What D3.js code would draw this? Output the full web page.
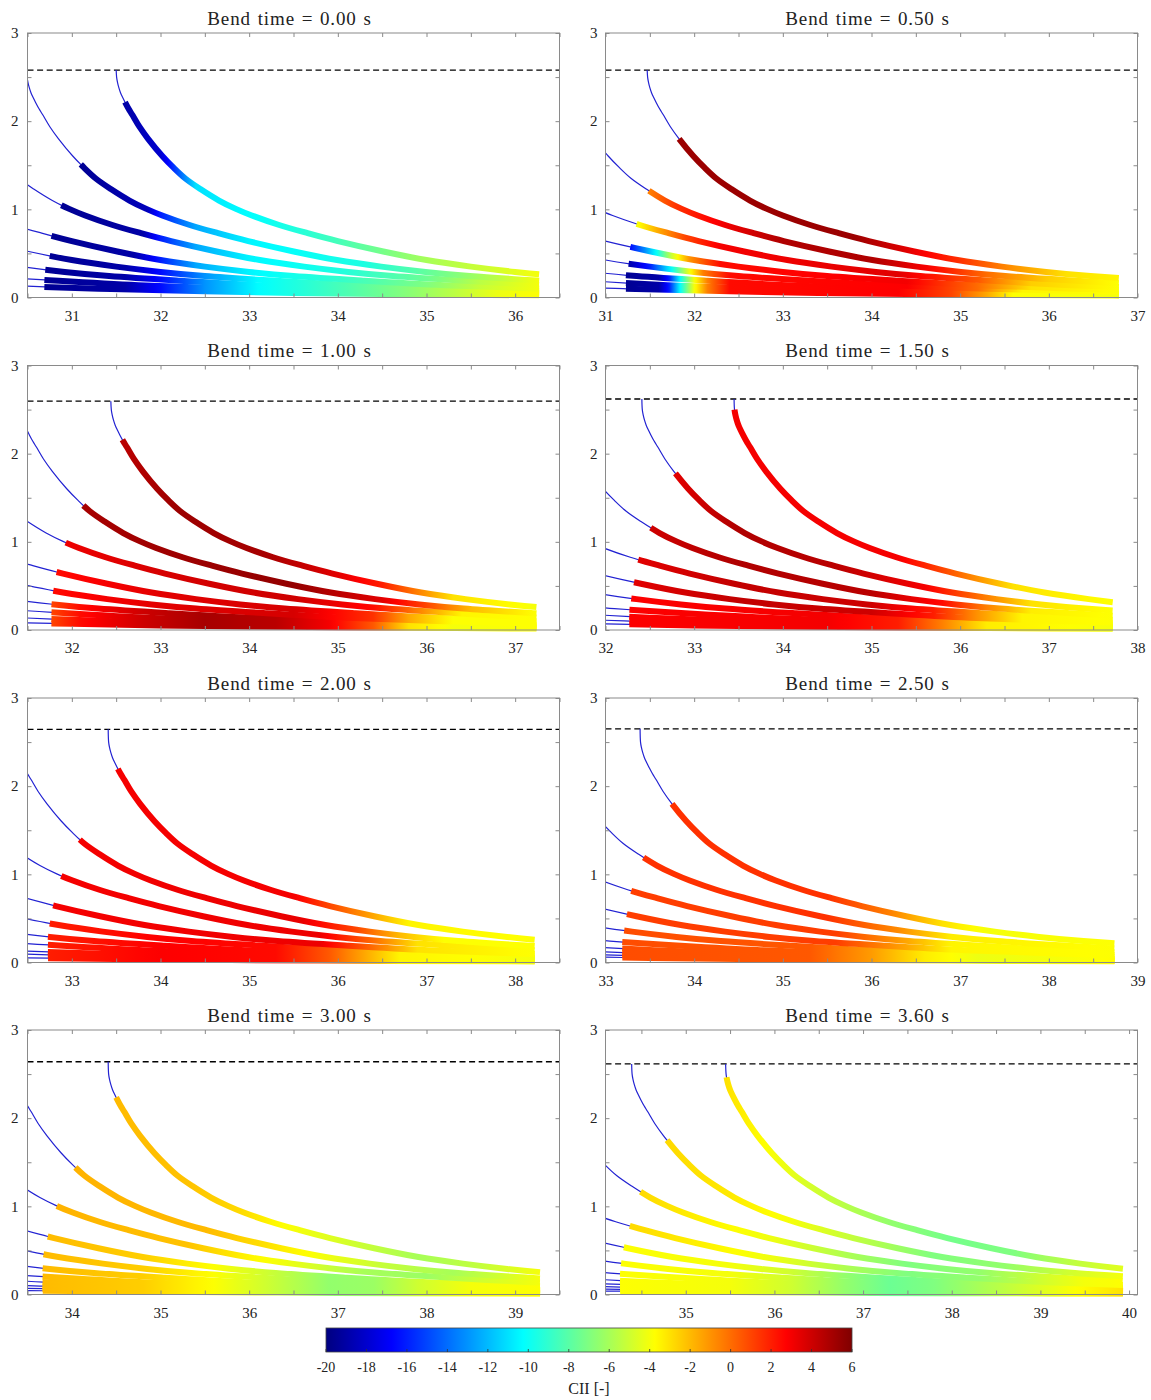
<!DOCTYPE html>
<html>
<head>
<meta charset="utf-8">
<script src="https://cdn.jsdelivr.net/npm/d3@7"></script>
<style>
  body { margin: 0; background: #fff; }
  svg { display: block; }
  text { font-family: "Liberation Serif", "DejaVu Serif", serif; fill: #222; }
</style>
</head>
<body>
<div id="container"></div>
<script>
// ---- data ----
const bendTimes = [0, 0.5, 1, 1.5, 2, 2.5, 3, 3.6];
const xDomains = [[30.5, 36.5], [31, 37], [31.5, 37.5], [32, 38], [32.5, 38.5], [33, 39], [33.5, 39.5], [34.095, 40.095]];
const dashHeights = [2.58, 2.58, 2.595, 2.62, 2.645, 2.65, 2.64, 2.615];
const endX = [36.27, 36.79, 37.24, 37.72, 38.22, 38.74, 39.28, 39.93];

// common trajectory shape: distance behind release point vs height
const profileDx = [0, 0.005, 0.015, 0.03, 0.05, 0.075, 0.1, 0.14, 0.18, 0.26, 0.36, 0.52, 0.65, 0.78, 0.95, 1.16, 1.35, 1.53, 1.83, 2.16, 2.5, 3.0, 3.5, 4.0, 4.5, 5.0, 5.8, 6.7, 7.8, 9.0, 10.5, 12, 14, 16, 18];
const profileY = [2.58, 2.50, 2.44, 2.38, 2.32, 2.265, 2.215, 2.14, 2.075, 1.94, 1.80, 1.605, 1.47, 1.35, 1.23, 1.10, 1.005, 0.93, 0.825, 0.73, 0.64, 0.525, 0.425, 0.35, 0.29, 0.243, 0.19, 0.14, 0.10, 0.07, 0.045, 0.03, 0.018, 0.012, 0.008];

// release x of each curve, newest first
const launchX = [
  [31.5, 30.49, 29.62, 28.5, 27.5, 26.42, 25.05, 23.5],
  [31.47, 30.51, 29.55, 28.5, 27.5, 26.35, 25.0, 23.4],
  [32.44, 31.42, 30.55, 29.4, 28.4, 27.3, 26.15, 24.7, 23.0],
  [33.45, 32.41, 31.45, 30.45, 29.4, 28.35, 27.1, 25.8, 24.5, 23.0],
  [33.41, 32.36, 31.48, 30.32, 29.35, 28.25, 27.1, 25.55, 24.5, 22.5],
  [33.39, 32.42, 31.42, 30.35, 29.3, 28.05, 26.85, 25.8, 24.7, 23.5],
  [34.41, 33.36, 32.48, 31.3, 30.35, 29.25, 28.1, 27.0, 25.7, 24.5, 23.0],
  [35.45, 34.39, 33.44, 32.38, 31.35, 30.3, 29.15, 27.9, 26.9, 25.9, 24.6, 23.1]
];

// x where the thick (coloured) part starts, newest first; last value repeats
const thickStartX = [
  [31.60, 31.10, 30.88, 30.77, 30.75, 30.70, 30.69],
  [31.83, 31.49, 31.35, 31.28, 31.26, 31.23],
  [32.57, 32.13, 31.93, 31.83, 31.79, 31.77],
  [33.455, 32.79, 32.51, 32.37, 32.32, 32.29, 32.27],
  [33.52, 33.09, 32.88, 32.79, 32.75, 32.73],
  [33.75, 33.43, 33.29, 33.24, 33.21, 33.19],
  [34.5, 34.04, 33.83, 33.73, 33.68, 33.67],
  [35.46, 34.79, 34.49, 34.37, 34.30, 34.27, 34.26]
];

// CII along each curve [x, CII], newest first; last entry repeats
const cii000 = [
  [[31.6, -19], [32.0, -18], [32.15, -15.5], [32.4, -11], [33.2, -10], [34.0, -8.5], [35.0, -6], [35.8, -4.8], [36.27, -4]],
  [[31.1, -19.5], [31.85, -18.5], [32.0, -16], [32.4, -12.5], [33.0, -10.5], [34.3, -9.5], [35.3, -7], [36.27, -4]],
  [[30.88, -19.5], [31.8, -19], [32.0, -16], [32.4, -12.5], [33.0, -10.5], [34.0, -9.5], [35.0, -7.5], [35.6, -5.5], [36.27, -4]],
  [[30.77, -19.5], [31.7, -19], [32.0, -16], [32.4, -12.5], [33.0, -10.5], [34.0, -9], [35.0, -7], [35.6, -5.2], [36.27, -4]],
  [[30.69, -19.5], [31.6, -19], [32.0, -16.5], [32.5, -13], [33.1, -10.3], [34.0, -8.5], [34.7, -7], [35.3, -5.5], [35.8, -4.2], [36.27, -3.8]]
];
const cii050 = [
  [[31.83, 5.3], [33.8, 5.3], [34.4, 3.5], [35.0, 1.5], [35.6, -1], [36.2, -3], [36.79, -3.5]],
  [[31.49, -0.5], [31.8, 1.5], [32.3, 3], [33.0, 4.8], [34.0, 4.8], [34.6, 3], [35.3, 0], [36.0, -2.5], [36.79, -3.8]],
  [[31.35, -4], [31.6, -1.5], [31.9, 1], [32.3, 3], [34.3, 3.5], [35.2, 0.5], [35.8, -2.5], [36.79, -3.8]],
  [[31.28, -16.5], [31.45, -13], [31.58, -10], [31.75, -5], [31.95, -1], [32.3, 2.5], [34.4, 3], [35.2, 0], [35.8, -3], [36.79, -3.8]],
  [[31.26, -19], [31.5, -16], [31.75, -10], [31.95, -4], [32.1, -0.5], [32.4, 2.5], [34.4, 2.8], [35.2, 0], [35.7, -3.5], [36.79, -3.8]],
  [[31.23, -19.5], [31.6, -19], [31.72, -16], [31.84, -10.3], [32.0, -4], [32.15, -0.5], [32.4, 2.5], [34.3, 2.8], [34.9, 1], [35.3, -1.5], [35.6, -3.8], [36.79, -4]]
];
const cii100 = [
  [[32.57, 4.5], [33.2, 5.3], [34.2, 5], [35.0, 3.5], [35.5, 2], [35.9, -0.5], [36.3, -3], [37.24, -4]],
  [[32.13, 5], [34.5, 5.5], [35.5, 3.5], [36.0, 1], [36.5, -2], [37.24, -3.8]],
  [[31.93, 3.2], [33.0, 3.8], [34.5, 4], [35.4, 2.5], [35.9, -0.5], [36.4, -3.5], [37.24, -3.8]],
  [[31.83, 2.5], [33.0, 3.5], [34.5, 3.8], [35.4, 1.5], [35.8, -1.5], [36.3, -3.8], [37.24, -3.8]],
  [[31.79, 2.5], [33.0, 3.5], [34.5, 3.8], [35.4, 1.5], [35.8, -1.5], [36.3, -3.8], [37.24, -3.8]],
  [[31.77, 1], [32.1, 2.5], [32.8, 4], [33.5, 5], [34.3, 4.5], [34.9, 3], [35.4, 0.5], [35.8, -3], [36.3, -4], [37.24, -3.8]]
];
const cii150 = [
  [[33.45, 3], [35.3, 3], [35.8, 1], [36.2, -1], [36.6, -3], [37.72, -3.8]],
  [[32.79, 3.5], [33.5, 4.8], [34.6, 4.5], [35.6, 3], [36.2, 0], [36.8, -3], [37.72, -3.8]],
  [[32.51, 4], [33.5, 4.8], [35.0, 4.5], [35.8, 2.5], [36.3, -0.5], [36.8, -3.3], [37.72, -3.8]],
  [[32.37, 3.5], [33.5, 4.3], [35.0, 4], [35.7, 2], [36.2, -1], [36.7, -3.5], [37.72, -3.8]],
  [[32.32, 3.5], [33.5, 4.3], [35.0, 4], [35.7, 2], [36.2, -1], [36.7, -3.5], [37.72, -3.8]],
  [[32.27, 2.8], [34.5, 3], [35.3, 2], [35.8, -0.5], [36.3, -3.3], [37.72, -4]]
];
const cii200 = [
  [[33.52, 3], [35.5, 3], [36.0, 0.5], [36.4, -1.5], [36.8, -3.5], [38.22, -3.8]],
  [[33.09, 3], [35.6, 3.3], [36.2, 1], [36.7, -2], [37.2, -3.8], [38.22, -3.8]],
  [[32.88, 3], [35.8, 3.2], [36.4, 0], [36.9, -3], [38.22, -3.8]],
  [[32.79, 3], [35.8, 3.2], [36.4, 0], [36.9, -3], [38.22, -3.8]],
  [[32.73, 2], [34.0, 2.8], [35.3, 2.5], [35.9, 0.5], [36.3, -1.5], [36.7, -3.5], [38.22, -4]]
];
const cii250 = [
  [[33.75, 1.5], [35.5, 1.5], [36.2, -0.5], [36.8, -3], [37.3, -4], [38.74, -3.8]],
  [[33.43, 1.5], [35.5, 1.5], [36.3, -0.8], [36.9, -3.3], [38.74, -3.8]],
  [[33.29, 1.2], [35.6, 1.2], [36.4, -1.5], [36.9, -3.5], [38.74, -3.8]],
  [[33.24, 1.2], [35.6, 1.2], [36.4, -1.5], [36.9, -3.5], [38.74, -3.8]],
  [[33.19, 0.8], [35.3, 0.5], [36.0, -1.2], [36.6, -3.3], [37.2, -4.2], [38.0, -4], [38.74, -3.7]]
];
const cii300 = [
  [[34.5, -2], [35.3, -2.2], [35.9, -2.8], [36.4, -3.8], [37.2, -5], [37.9, -6], [38.6, -5.3], [39.28, -4]],
  [[34.04, -1.8], [35.5, -2], [36.2, -3], [36.8, -4], [37.5, -5.2], [38.3, -6], [38.8, -5], [39.28, -4]],
  [[33.83, -1.8], [35.3, -2.2], [36.0, -3.5], [36.6, -4.5], [37.3, -6], [38.0, -6.3], [38.6, -5], [39.28, -4]],
  [[33.67, -2], [34.8, -2.5], [35.6, -3.8], [36.2, -5], [36.9, -6.5], [37.4, -6.3], [37.9, -5], [38.5, -4], [39.28, -3.8]]
];
const cii360 = [
  [[35.46, -3], [35.9, -3.8], [36.6, -5.2], [37.3, -6.5], [38.0, -7.3], [38.7, -7], [39.3, -5.5], [39.93, -4.5]],
  [[34.79, -2.8], [35.5, -3.2], [36.2, -4], [37.0, -5.5], [37.8, -7], [38.6, -6.5], [39.3, -5], [39.93, -4]],
  [[34.49, -2.8], [35.3, -3.5], [36.0, -4.2], [36.8, -5.8], [37.5, -7], [38.3, -6.5], [39.0, -5], [39.5, -4], [39.93, -3.8]],
  [[34.37, -2.8], [35.3, -3.5], [36.0, -4.2], [36.8, -5.8], [37.5, -7], [38.3, -6.5], [39.0, -5], [39.5, -4], [39.93, -3.8]],
  [[34.26, -3.8], [35.5, -4], [36.2, -5], [36.8, -6.5], [37.3, -7.5], [37.8, -7], [38.3, -6], [38.9, -4.8], [39.4, -3.8], [39.93, -3]]
];
const ciiStops = [cii000, cii050, cii100, cii150, cii200, cii250, cii300, cii360];

const ciiMin = -20, ciiMax = 6;
const ciiTicks = d3.range(-20, 7, 2);

// ---- layout ----
const W = 532, H = 264.5;
const colX = [27.5, 605.5];
const rowY = [33, 365.5, 698, 1030];
const thickW = 6, thinW = 1.2;

function jet(v) {
  const t = Math.max(0, Math.min(1, (v - ciiMin) / (ciiMax - ciiMin)));
  const f = a => Math.round(255 * Math.max(0, Math.min(1, 1.5 - Math.abs(4 * t - a))));
  return `rgb(${f(3)},${f(2)},${f(1)})`;
}

function lenAtX(node, px) {
  let lo = 0, hi = node.getTotalLength();
  for (let k = 0; k < 32; k++) {
    const mid = (lo + hi) / 2;
    if (node.getPointAtLength(mid).x < px) lo = mid; else hi = mid;
  }
  return lo;
}

const svg = d3.select('#container').append('svg')
  .attr('width', 1151)
  .attr('height', 1400);
const defs = svg.append('defs');

bendTimes.forEach((bt, p) => {
  const ox = colX[p % 2], oy = rowY[Math.floor(p / 2)];
  const [d0, d1] = xDomains[p];
  const x = d3.scaleLinear().domain([d0, d1]).range([0, W]);
  const y = d3.scaleLinear().domain([0, 3]).range([H, 0]);
  const g = svg.append('g').attr('transform', `translate(${ox},${oy})`);

  defs.append('clipPath').attr('id', `clip${p}`)
    .append('rect').attr('x', 0).attr('y', -10).attr('width', W).attr('height', H + 20);

  // title
  svg.append('text')
    .attr('x', ox + W / 2 - 4)
    .attr('y', oy - 8.5)
    .attr('text-anchor', 'middle')
    .style('font-size', '19px')
    .style('letter-spacing', '0.9px')
    .style('word-spacing', '1px')
    .text(`Bend time = ${bt.toFixed(2)} s`);

  // dashed reference line
  g.append('line')
    .attr('x1', 0).attr('x2', W)
    .attr('y1', y(dashHeights[p])).attr('y2', y(dashHeights[p]))
    .attr('stroke', '#000').attr('stroke-width', 1.3)
    .attr('stroke-dasharray', '6,3.6');

  const line = d3.line().x(d => x(d[0])).y(d => y(d[1])).curve(d3.curveCatmullRom.alpha(0.5));
  const launches = launchX[p];
  const thinG = g.append('g').attr('clip-path', `url(#clip${p})`);
  const thickG = g.append('g');

  // oldest first so the newest curve sits on top
  for (let i = launches.length - 1; i >= 0; i--) {
    const pts = profileDx.map((dx, k) => [launches[i] + dx, k === 0 ? dashHeights[p] : profileY[k]]);
    const dPath = line(pts);
    const ts = thickStartX[p][Math.min(i, thickStartX[p].length - 1)];
    const stops = ciiStops[p][Math.min(i, ciiStops[p].length - 1)];

    const thin = thinG.append('path')
      .attr('d', dPath)
      .attr('fill', 'none')
      .attr('stroke', '#2222d2')
      .attr('stroke-width', thinW);
    const node = thin.node();
    const total = node.getTotalLength();
    const lts = lenAtX(node, x(ts));
    const lend = lenAtX(node, x(endX[p]));
    thin.attr('stroke-dasharray', `${lts + 1} ${total + 10}`);

    // gradient along x from the CII stops
    const gid = `grad${p}_${i}`;
    const gx0 = x(stops[0][0]), gx1 = x(stops[stops.length - 1][0]);
    const grad = defs.append('linearGradient').attr('id', gid)
      .attr('gradientUnits', 'userSpaceOnUse')
      .attr('x1', gx0).attr('x2', gx1).attr('y1', 0).attr('y2', 0);
    for (let s = 0; s < stops.length - 1; s++) {
      const [xa, ca] = stops[s], [xb, cb] = stops[s + 1];
      for (let k = 0; k < 6; k++) {
        const f = k / 6;
        const xv = xa + (xb - xa) * f;
        grad.append('stop')
          .attr('offset', (x(xv) - gx0) / (gx1 - gx0))
          .attr('stop-color', jet(ca + (cb - ca) * f));
      }
    }
    const last = stops[stops.length - 1];
    grad.append('stop').attr('offset', 1).attr('stop-color', jet(last[1]));

    thickG.append('path')
      .attr('d', dPath)
      .attr('fill', 'none')
      .attr('stroke', `url(#${gid})`)
      .attr('stroke-width', thickW)
      .attr('stroke-dasharray', `0 ${lts} ${Math.max(0, lend - lts)} ${total + 10}`);
  }

  // axes box and ticks
  const xt = d3.range(Math.ceil(d0 * 2) / 2, d1 + 1e-6, 0.5);
  const yt = d3.range(0, 3.01, 0.5);
  const fmt = d => (Math.abs(d - Math.round(d)) < 1e-6 ? String(Math.round(d)) : '');
  const axes = [
    g.append('g').attr('transform', `translate(0,${H})`)
      .call(d3.axisBottom(x).tickValues(xt).tickSize(-4).tickPadding(12.5).tickFormat(fmt)),
    g.append('g')
      .call(d3.axisTop(x).tickValues(xt).tickSize(-4).tickFormat('')),
    g.append('g')
      .call(d3.axisLeft(y).tickValues(yt).tickSize(-4).tickPadding(p % 2 ? 8 : 9).tickFormat(fmt)),
    g.append('g').attr('transform', `translate(${W},0)`)
      .call(d3.axisRight(y).tickValues(yt).tickSize(-4).tickFormat(''))
  ];
  axes.forEach(a => {
    a.select('.domain').remove();
    a.selectAll('line').attr('stroke', '#8a8a8a');
    a.selectAll('text').style('font-size', '15px').style('font-family', '"Liberation Serif", serif').attr('fill', '#222');
  });
  g.append('rect')
    .attr('width', W).attr('height', H)
    .attr('fill', 'none').attr('stroke', '#8a8a8a').attr('stroke-width', 1);
});

// ---- colorbar ----
const cbX = 326, cbY = 1328, cbW = 526, cbH = 24;
const cb = d3.scaleLinear().domain([ciiMin, ciiMax]).range([cbX, cbX + cbW]);
const cbGrad = defs.append('linearGradient').attr('id', 'cbgrad');
d3.range(0, 1.0001, 1 / 64).forEach(t => {
  cbGrad.append('stop').attr('offset', t).attr('stop-color', jet(ciiMin + t * (ciiMax - ciiMin)));
});
svg.append('rect')
  .attr('x', cbX).attr('y', cbY).attr('width', cbW).attr('height', cbH)
  .attr('fill', 'url(#cbgrad)').attr('stroke', '#444').attr('stroke-width', 0.8);
svg.append('g').selectAll('line').data(ciiTicks).join('line')
  .attr('x1', d => cb(d)).attr('x2', d => cb(d))
  .attr('y1', cbY + cbH).attr('y2', cbY + cbH - 3)
  .attr('stroke', '#333').attr('stroke-width', 0.8);
svg.append('g').selectAll('text').data(ciiTicks).join('text')
  .attr('x', d => cb(d)).attr('y', 1372)
  .attr('text-anchor', 'middle')
  .style('font-size', '14px')
  .text(d => String(d));
svg.append('text')
  .attr('x', cbX + cbW / 2).attr('y', 1394)
  .attr('text-anchor', 'middle')
  .style('font-size', '16px')
  .text('CII [-]');
</script>
</body>
</html>
